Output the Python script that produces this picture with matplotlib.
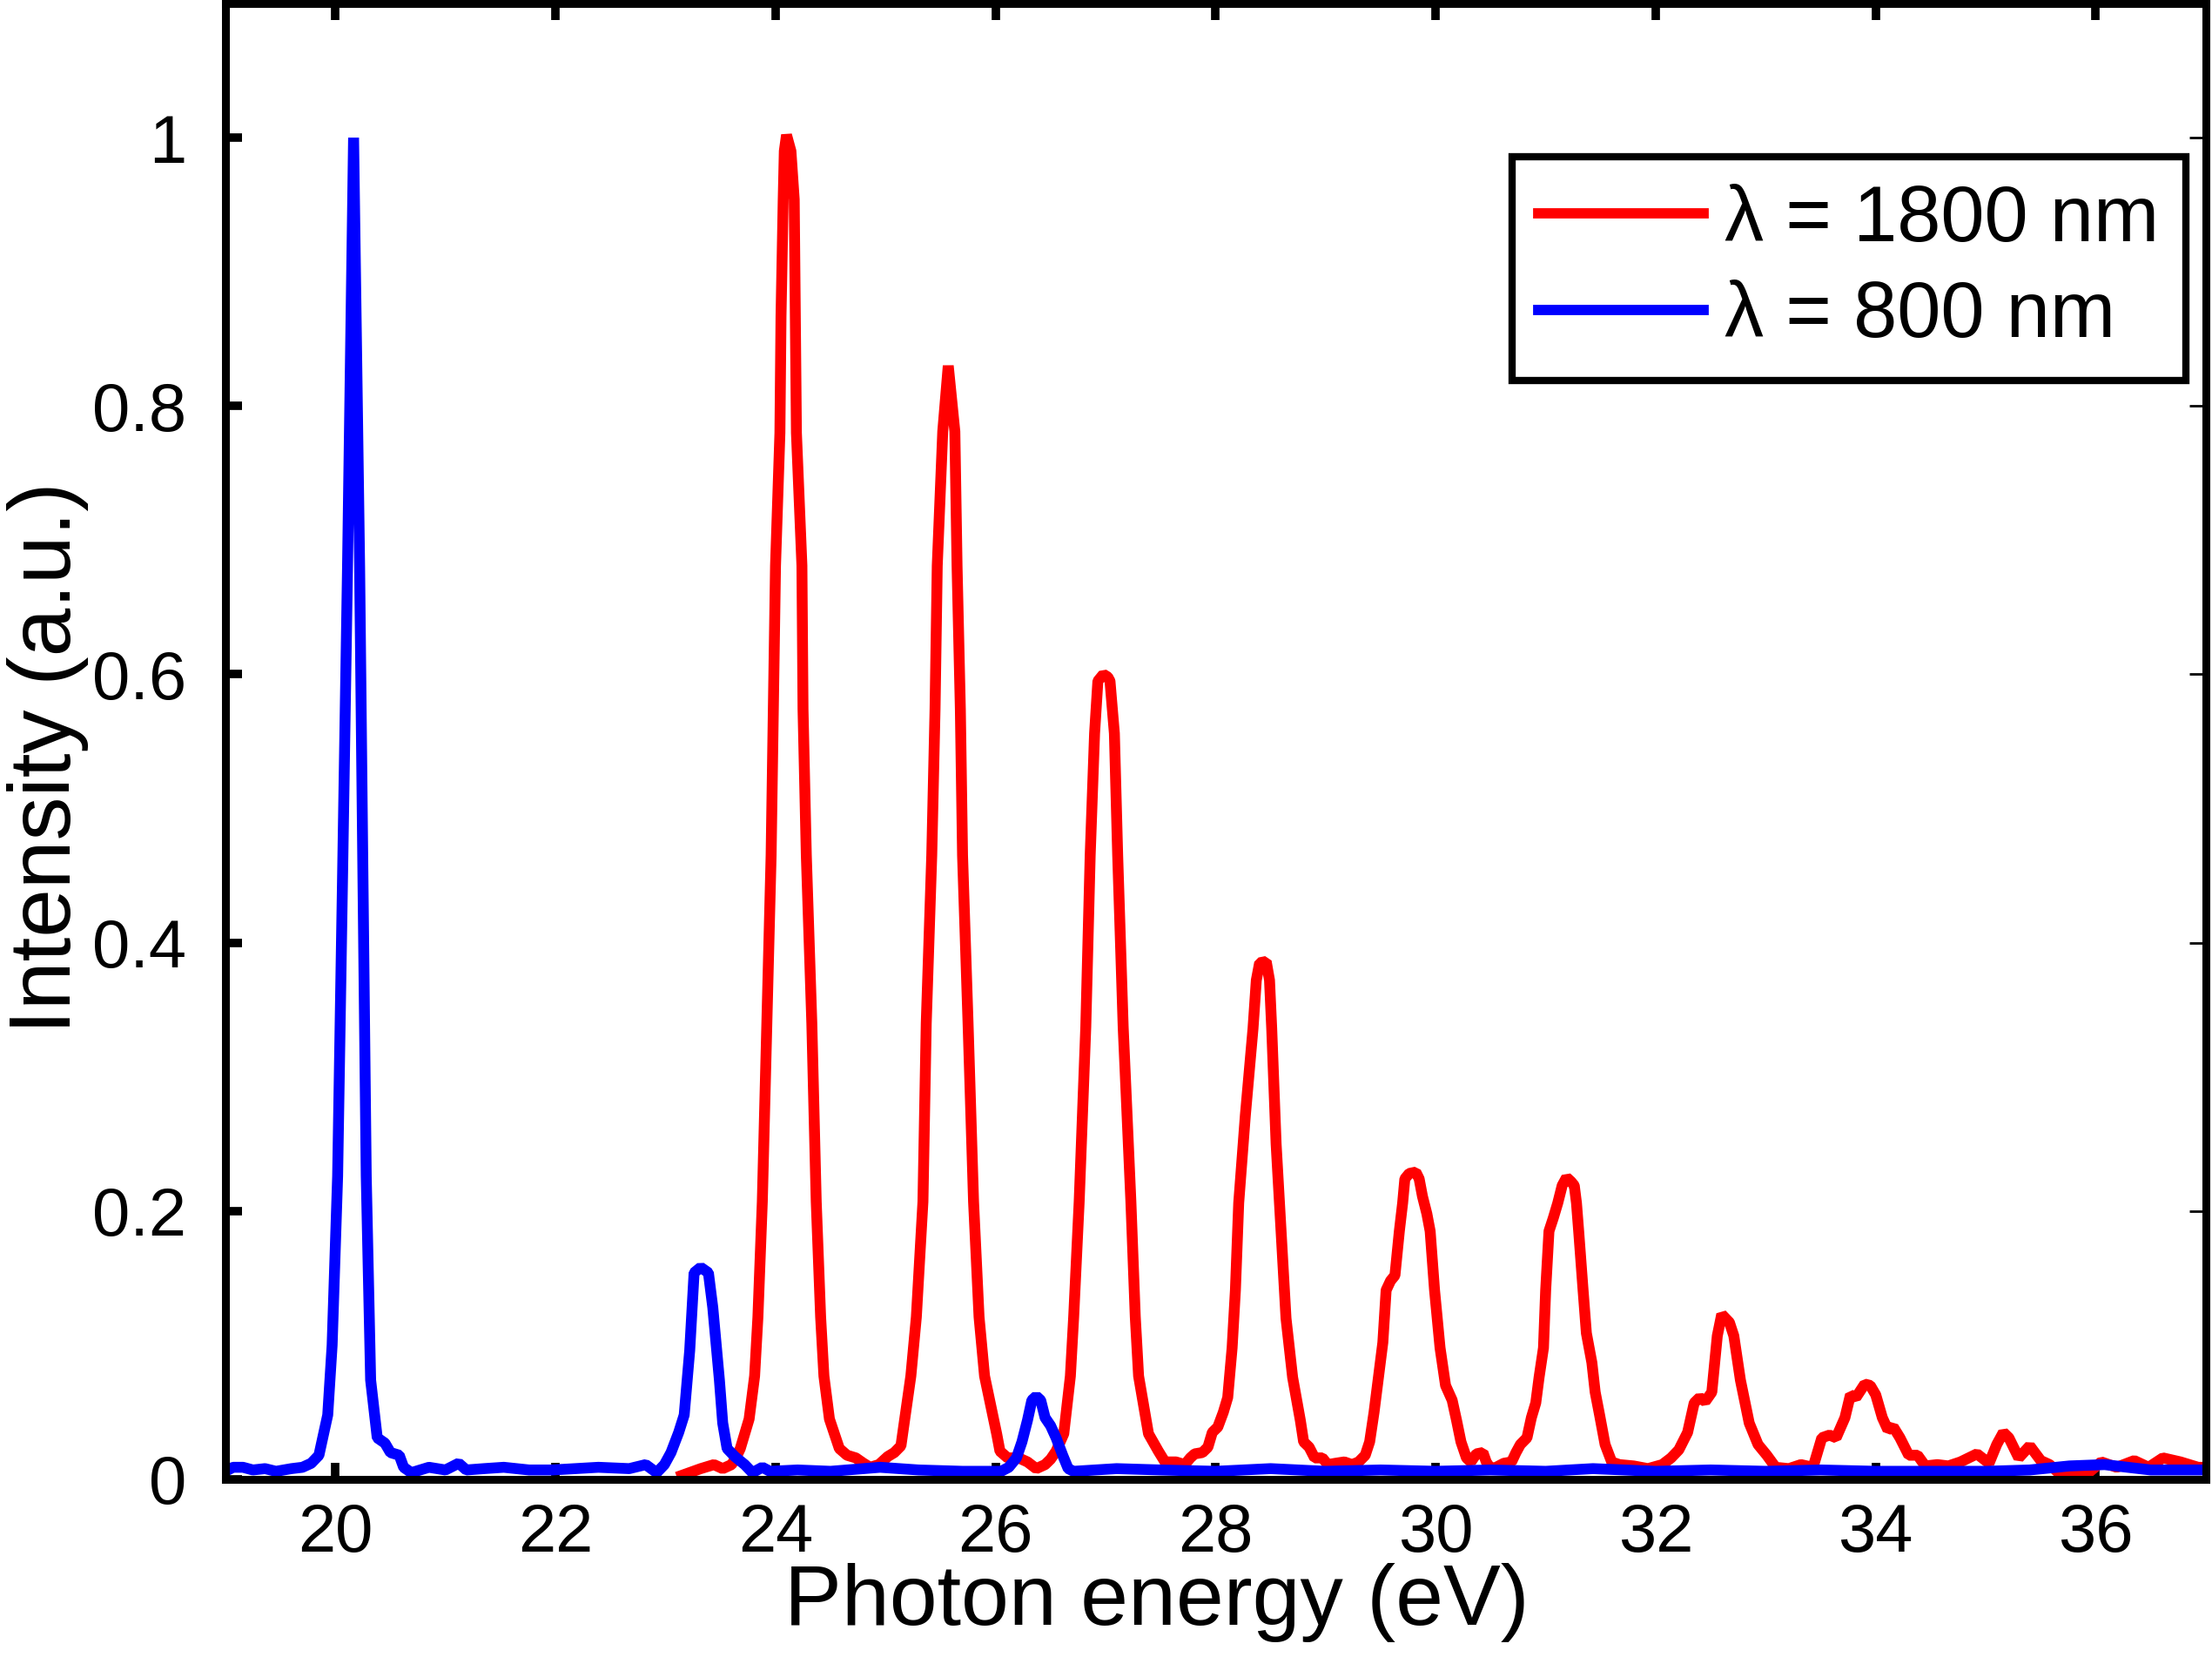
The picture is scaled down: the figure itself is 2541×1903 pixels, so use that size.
import matplotlib
matplotlib.use("Agg")
import matplotlib.pyplot as plt

plt.rcParams['font.family'] = ['Liberation Sans', 'DejaVu Sans']

# ---- data (photon energy in eV, normalised intensity) ----
red_x = [23.15, 23.32, 23.44, 23.52, 23.60, 23.64, 23.68, 23.76, 23.81, 23.84, 23.88,
         23.92, 23.96, 23.98, 24.00, 24.04, 24.05, 24.07, 24.08, 24.10, 24.14, 24.17,
         24.18, 24.19, 24.24, 24.25, 24.28, 24.33, 24.37, 24.41, 24.44, 24.49, 24.58,
         24.65, 24.73, 24.80, 24.86, 24.94, 25.02, 25.08, 25.14, 25.23, 25.28, 25.34,
         25.37, 25.42, 25.45, 25.47, 25.52, 25.57, 25.63, 25.65, 25.68, 25.70, 25.75,
         25.80, 25.85, 25.90, 26.01, 26.04, 26.11, 26.21, 26.29, 26.37, 26.45, 26.50,
         26.55, 26.62, 26.68, 26.71, 26.76, 26.82, 26.86, 26.90, 26.93, 26.98, 27.02,
         27.04, 27.08, 27.11, 27.16, 27.23, 27.27, 27.30, 27.39, 27.48, 27.54, 27.64,
         27.72, 27.77, 27.81, 27.88, 27.93, 27.97, 28.02, 28.07, 28.11, 28.15, 28.18,
         28.21, 28.27, 28.34, 28.37, 28.40, 28.46, 28.49, 28.51, 28.55, 28.61, 28.64,
         28.70, 28.77, 28.80, 28.85, 28.90, 28.97, 29.02, 29.09, 29.17, 29.24, 29.30,
         29.36, 29.40, 29.44, 29.48, 29.52, 29.55, 29.59, 29.63, 29.67, 29.70, 29.72,
         29.76, 29.82, 29.85, 29.88, 29.92, 29.95, 29.99, 30.04, 30.09, 30.15, 30.19,
         30.23, 30.28, 30.32, 30.37, 30.43, 30.46, 30.50, 30.55, 30.62, 30.69, 30.73,
         30.77, 30.83, 30.87, 30.91, 30.94, 30.98, 31.00, 31.03, 31.07, 31.11, 31.15,
         31.19, 31.23, 31.26, 31.28, 31.30, 31.34, 31.37, 31.42, 31.45, 31.49, 31.54,
         31.60, 31.67, 31.80, 31.93, 32.06, 32.14, 32.21, 32.29, 32.35, 32.40, 32.45,
         32.51, 32.56, 32.60, 32.67, 32.71, 32.77, 32.85, 32.93, 33.01, 33.09, 33.21,
         33.32, 33.43, 33.51, 33.58, 33.64, 33.72, 33.77, 33.82, 33.90, 33.95, 34.00,
         34.06, 34.11, 34.16, 34.22, 34.30, 34.38, 34.45, 34.56, 34.66, 34.77, 34.92,
         35.03, 35.10, 35.16, 35.21, 35.30, 35.40, 35.50, 35.58, 35.66, 35.78, 35.92,
         36.05, 36.19, 36.35, 36.48, 36.61, 36.77, 36.93, 37.00]
red_y = [0.003, 0.008, 0.011, 0.008, 0.011, 0.016, 0.023, 0.045, 0.077, 0.121, 0.207,
         0.337, 0.465, 0.574, 0.681, 0.780, 0.867, 0.954, 0.990, 1.002, 0.990, 0.954,
         0.867, 0.780, 0.681, 0.574, 0.465, 0.340, 0.207, 0.121, 0.077, 0.045, 0.023,
         0.018, 0.016, 0.012, 0.009, 0.011, 0.017, 0.020, 0.025, 0.077, 0.121, 0.207,
         0.340, 0.465, 0.574, 0.681, 0.781, 0.830, 0.781, 0.681, 0.574, 0.465, 0.340,
         0.207, 0.121, 0.077, 0.034, 0.021, 0.016, 0.016, 0.013, 0.008, 0.011, 0.015,
         0.021, 0.034, 0.077, 0.121, 0.207, 0.337, 0.465, 0.556, 0.595, 0.600, 0.598,
         0.595, 0.556, 0.465, 0.337, 0.207, 0.121, 0.077, 0.034, 0.021, 0.013, 0.013,
         0.011, 0.016, 0.019, 0.020, 0.024, 0.035, 0.039, 0.050, 0.061, 0.098, 0.141,
         0.206, 0.271, 0.336, 0.372, 0.385, 0.386, 0.372, 0.336, 0.250, 0.163, 0.120,
         0.076, 0.044, 0.028, 0.024, 0.016, 0.016, 0.011, 0.012, 0.013, 0.011, 0.013,
         0.018, 0.028, 0.050, 0.076, 0.102, 0.141, 0.148, 0.152, 0.185, 0.206, 0.224,
         0.228, 0.229, 0.224, 0.211, 0.198, 0.185, 0.141, 0.098, 0.070, 0.059, 0.044,
         0.028, 0.016, 0.013, 0.019, 0.020, 0.013, 0.008, 0.009, 0.012, 0.013, 0.020,
         0.026, 0.031, 0.046, 0.057, 0.076, 0.098, 0.141, 0.185, 0.195, 0.206, 0.219,
         0.225, 0.222, 0.219, 0.206, 0.185, 0.141, 0.109, 0.087, 0.065, 0.048, 0.026,
         0.013, 0.011, 0.010, 0.008, 0.011, 0.016, 0.022, 0.035, 0.057, 0.061, 0.058,
         0.065, 0.107, 0.123, 0.117, 0.107, 0.074, 0.042, 0.026, 0.018, 0.009, 0.008,
         0.011, 0.009, 0.031, 0.033, 0.031, 0.046, 0.063, 0.061, 0.071, 0.070, 0.063,
         0.046, 0.037, 0.039, 0.031, 0.018, 0.018, 0.010, 0.011, 0.010, 0.013, 0.019,
         0.012, 0.026, 0.035, 0.031, 0.016, 0.025, 0.014, 0.011, 0.005, 0.004, 0.004,
         0.013, 0.009, 0.014, 0.009, 0.016, 0.013, 0.009, 0.009]

blue_x = [19.00, 19.07, 19.16, 19.25, 19.36, 19.46, 19.60, 19.70, 19.78, 19.85, 19.93,
          19.97, 20.02, 20.065, 20.11, 20.165, 20.22, 20.25, 20.28, 20.32, 20.38, 20.45,
          20.50, 20.58, 20.62, 20.69, 20.85, 21.00, 21.12, 21.19, 21.35, 21.53, 21.76,
          21.97, 22.18, 22.39, 22.67, 22.82, 22.92, 22.99, 23.05, 23.12, 23.17, 23.22,
          23.26, 23.32, 23.39, 23.43, 23.49, 23.52, 23.56, 23.63, 23.72, 23.79, 23.88,
          23.95, 24.20, 24.50, 24.95, 25.30, 25.70, 26.05, 26.12, 26.19, 26.24, 26.29,
          26.33, 26.37, 26.41, 26.45, 26.50, 26.55, 26.61, 26.66, 26.71, 27.10, 27.50,
          28.00, 28.50, 29.00, 29.50, 30.00, 30.50, 31.00, 31.43, 32.00, 32.50, 33.00,
          33.50, 34.00, 34.50, 35.00, 35.40, 35.76, 36.08, 36.50, 37.00]
blue_y = [0.006, 0.009, 0.009, 0.007, 0.008, 0.006, 0.008, 0.009, 0.012, 0.018, 0.048,
          0.100, 0.226, 0.450, 0.680, 1.000, 0.680, 0.450, 0.226, 0.074, 0.031, 0.027,
          0.020, 0.018, 0.009, 0.005, 0.009, 0.007, 0.012, 0.007, 0.008, 0.009, 0.007,
          0.007, 0.008, 0.009, 0.008, 0.011, 0.005, 0.011, 0.020, 0.035, 0.048, 0.096,
          0.154, 0.158, 0.154, 0.128, 0.074, 0.042, 0.023, 0.017, 0.011, 0.005, 0.009,
          0.006, 0.007, 0.006, 0.009, 0.007, 0.006, 0.006, 0.009, 0.016, 0.028, 0.044,
          0.059, 0.062, 0.059, 0.046, 0.040, 0.031, 0.018, 0.008, 0.006, 0.008, 0.007,
          0.006, 0.008, 0.006, 0.007, 0.006, 0.007, 0.006, 0.008, 0.006, 0.007, 0.006,
          0.007, 0.006, 0.006, 0.006, 0.007, 0.010, 0.011, 0.007, 0.007]

labels = ['λ = 1800 nm', 'λ = 800 nm']
x_ticks = [20, 22, 24, 26, 28, 30, 32, 34, 36]
y_ticks = [0, 0.2, 0.4, 0.6, 0.8, 1]
y_tick_labels = ['0', '0.2', '0.4', '0.6', '0.8', '1']


def main():
    fig = plt.figure(figsize=(25.41, 19.03), dpi=100)
    ax = fig.add_axes([0.1019, 0.1072, 0.8953, 0.8907])

    ax.plot(red_x, red_y, color='#ff0000', lw=9, label=labels[0],
            solid_joinstyle='bevel')
    ax.plot(blue_x, blue_y, color='#0000ff', lw=9, label=labels[1],
            solid_joinstyle='bevel')

    ax.set_xlim(19, 37)
    ax.set_ylim(0, 1.1)
    ax.set_xticks(x_ticks)
    ax.set_yticks(y_ticks)
    ax.set_yticklabels(y_tick_labels)

    for s in ax.spines.values():
        s.set_linewidth(6.5)

    ax.tick_params(direction='in', length=14, width=7, top=True, right=True,
                   labelsize=56)
    ax.tick_params(axis='x', pad=19)
    ax.tick_params(axis='y', pad=32)
    # right-hand ticks are thin in the original
    for t in ax.yaxis.get_major_ticks():
        t.tick2line.set_markeredgewidth(2)

    ax.set_xlabel('Photon energy (eV)', fontsize=71)
    ax.set_ylabel('Intensity (a.u.)', fontsize=72)
    ax.xaxis.set_label_coords(0.4703, -0.0566)
    ax.yaxis.set_label_coords(-0.069, 0.489)

    leg = ax.legend(loc='upper right', bbox_to_anchor=(0.990, 0.896),
                    fontsize=65, handlelength=2.1, handletextpad=0.27,
                    borderpad=0.34, labelspacing=0.28, borderaxespad=0,
                    fancybox=False, framealpha=1, edgecolor='black')
    leg.get_frame().set_linewidth(6)
    for line in leg.get_lines():
        line.set_linewidth(8.5)

    fig.savefig('out.png', dpi=100)


if __name__ == '__main__':
    main()
